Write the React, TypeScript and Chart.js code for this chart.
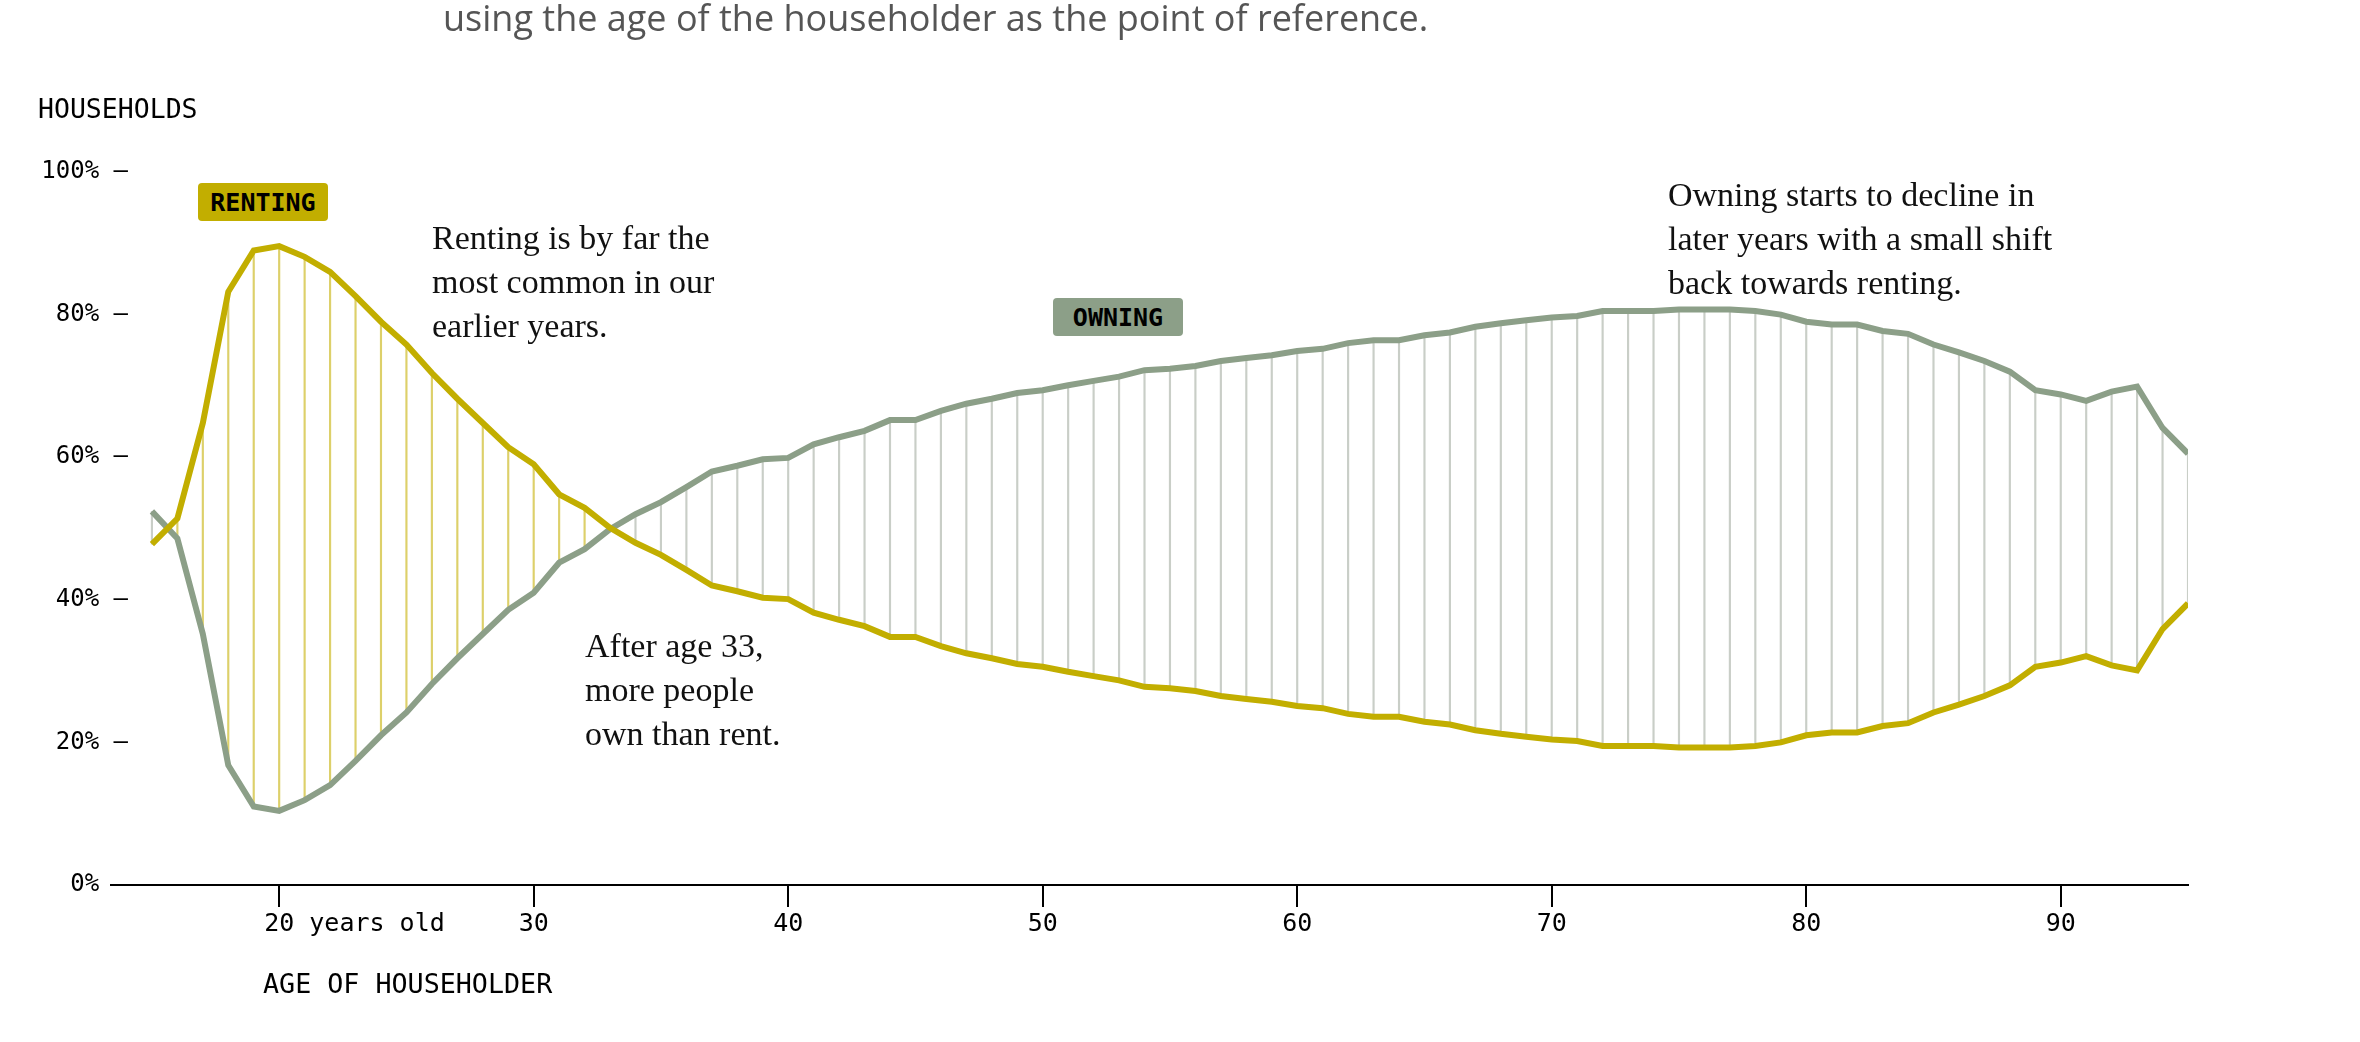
import React, { useEffect, useRef } from "react";
import { Chart, registerables } from "chart.js";
Chart.register(...registerables);

const ages: number[] = [];
for (let a = 15; a <= 95; a++) ages.push(a);
const renting = [47.8,51.4,64.8,83.2,89,89.6,88.1,86,82.6,79,75.8,71.8,68.2,64.8,61.4,59,54.8,52.9,50.1,48,46.3,44.2,42,41.2,40.3,40.1,38.2,37.2,36.3,34.8,34.8,33.5,32.5,31.8,31,30.6,29.9,29.3,28.7,27.8,27.6,27.2,26.5,26.1,25.7,25.1,24.8,24,23.6,23.6,22.9,22.5,21.7,21.2,20.8,20.4,20.2,19.5,19.5,19.5,19.3,19.3,19.3,19.5,20,21,21.4,21.4,22.3,22.7,24.2,25.3,26.5,28,30.6,31.2,32.1,30.8,30.1,35.9,39.5];
const owning = [52.4,48.6,35.2,16.8,11,10.4,11.9,14,17.4,21,24.2,28.2,31.8,35.2,38.6,41,45.2,47.1,49.9,52,53.7,55.8,58,58.8,59.7,59.9,61.8,62.8,63.7,65.2,65.2,66.5,67.5,68.2,69,69.4,70.1,70.7,71.3,72.2,72.4,72.8,73.5,73.9,74.3,74.9,75.2,76,76.4,76.4,77.1,77.5,78.3,78.8,79.2,79.6,79.8,80.5,80.5,80.5,80.7,80.7,80.7,80.5,80,79,78.6,78.6,77.7,77.3,75.8,74.7,73.5,72,69.4,68.8,67.9,69.2,69.9,64.1,60.5];
const xTicks = [20, 30, 40, 50, 60, 70, 80, 90];
const yTicks = [0, 20, 40, 60, 80, 100];

const YEL = "#C2AE00";
const GRN = "#8C9F88";
const MONO = '"DejaVu Sans Mono", monospace';
const SERIF = '"Liberation Serif", serif';

const axisExtend = {
  id: "axisExtend",
  afterDraw(chart: any) {
    const { ctx, chartArea } = chart;
    ctx.save();
    ctx.strokeStyle = "#000";
    ctx.lineWidth = 2;
    ctx.beginPath();
    ctx.moveTo(110, chartArea.bottom);
    ctx.lineTo(chartArea.left, chartArea.bottom);
    ctx.stroke();
    ctx.restore();
  },
};

export default function App() {
  const ref = useRef<HTMLCanvasElement>(null);
  useEffect(() => {
    document.body.style.margin = "0";
    const chart = new Chart(ref.current!, {
      type: "line",
      plugins: [axisExtend],
      data: {
        datasets: [
          {
            type: "line",
            data: ages.map((a, i) => ({ x: a, y: renting[i] })),
            borderColor: YEL, borderWidth: 6, pointRadius: 0, order: 0,
          } as any,
          {
            type: "line",
            data: ages.map((a, i) => ({ x: a, y: owning[i] })),
            borderColor: GRN, borderWidth: 6, pointRadius: 0, order: 0,
          } as any,
          {
            type: "bar",
            data: ages.map((a, i) => ({ x: a, y: [Math.min(renting[i], owning[i]), Math.max(renting[i], owning[i])] })),
            backgroundColor: ages.map((a, i) => (renting[i] > owning[i] ? "#DDD06A" : "#C9CEC7")),
            barThickness: 1.5, order: 1,
          } as any,
        ],
      },
      options: {
        animation: false, responsive: false,
        layout: { padding: { top: 172, right: 172, left: 0, bottom: 0 } },
        plugins: { legend: { display: false }, tooltip: { enabled: false } },
        scales: {
          x: {
            type: "linear", min: 14.06, max: 95, offset: false,
            afterBuildTicks: (s: any) => { s.ticks = xTicks.map((v) => ({ value: v })); },
            afterFit: (s: any) => { s.height = 157; },
            grid: { display: true, offset: false, drawOnChartArea: false, color: "#000", tickLength: 22, lineWidth: 2 },
            border: { display: true, color: "#000", width: 2 },
            ticks: {
              color: "#000", font: { family: MONO, size: 25 }, padding: 2, maxRotation: 0, autoSkip: false,
              callback: (v: any) => (v === 20 ? "          20 years old" : String(v)),
            },
          },
          y: {
            min: 0, max: 100,
            afterBuildTicks: (s: any) => { s.ticks = yTicks.map((v) => ({ value: v })); },
            afterFit: (s: any) => { s.width = 128; },
            grid: { display: false, drawTicks: false },
            border: { display: false },
            ticks: {
              color: "#000", font: { family: MONO, size: 24 }, padding: 0, autoSkip: false,
              callback: (v: any) => (v === 0 ? "0%  " : v + "% \u2014"),
            },
          },
        },
      },
    });
    return () => chart.destroy();
  }, []);

  const box = (text: string, left: number, top: number, bg: string) => (
    <div style={{ position: "absolute", left, top, width: 130, height: 38, background: bg, borderRadius: 4, display: "flex", alignItems: "center", justifyContent: "center", fontFamily: MONO, fontWeight: "bold", fontSize: 25, color: "#000" }}>{text}</div>
  );
  const note = (lines: string[], left: number, top: number) => (
    <div style={{ position: "absolute", left, top, fontFamily: SERIF, fontSize: 34, lineHeight: "44px", color: "#111" }}>
      {lines.map((l, i) => <div key={i}>{l}</div>)}
    </div>
  );

  return (
    <div style={{ position: "relative", width: 2360, height: 1042, background: "#fff", overflow: "hidden" }}>
      <canvas ref={ref} width={2360} height={1042} style={{ position: "absolute", left: 0, top: 0 }} />
      <div style={{ position: "absolute", left: 443, top: -4, fontFamily: '"Open Sans", sans-serif', fontSize: 36, color: "#555", lineHeight: "44px" }}>using the age of the householder as the point of reference.</div>
      <div style={{ position: "absolute", left: 38, top: 93, fontFamily: MONO, fontSize: 26.5, color: "#000" }}>HOUSEHOLDS</div>
      <div style={{ position: "absolute", left: 263, top: 968, fontFamily: MONO, fontSize: 26.7, color: "#000" }}>AGE OF HOUSEHOLDER</div>
      {box("RENTING", 198, 183, YEL)}
      {box("OWNING", 1053, 298, GRN)}
      {note(["Renting is by far the", "most common in our", "earlier years."], 432, 216)}
      {note(["After age 33,", "more people", "own than rent."], 585, 624)}
      {note(["Owning starts to decline in", "later years with a small shift", "back towards renting."], 1668, 173)}
    </div>
  );
}
